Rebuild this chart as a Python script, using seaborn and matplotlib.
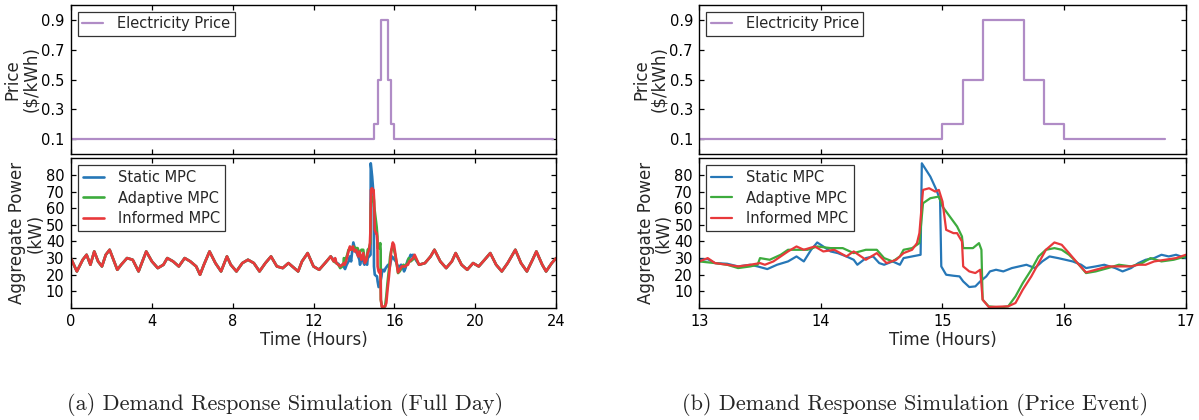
import numpy as np
import matplotlib
matplotlib.use("Agg")
import matplotlib.pyplot as plt
import seaborn as sns

# ---------------- data ----------------
# Electricity price (step function, $/kWh)
price_hours_day = [0.0, 15.0, 15.167, 15.333, 15.667, 15.833, 16.0, 23.833]
price_values_day = [0.1, 0.2, 0.5, 0.9, 0.5, 0.2, 0.1, 0.1]
price_hours_event = [13.0, 15.0, 15.167, 15.333, 15.667, 15.833, 16.0, 16.833]
price_values_event = [0.1, 0.2, 0.5, 0.9, 0.5, 0.2, 0.1, 0.1]

# Full-day aggregate power outside the event window (all controllers overlap)
pre_hours = [0.00, 0.30, 0.59, 0.78, 0.97, 1.16, 1.35, 1.54, 1.73, 1.92, 2.11, 2.30,
             2.49, 2.78, 3.06, 3.35, 3.54, 3.73, 4.01, 4.30, 4.58, 4.77, 5.06, 5.34,
             5.63, 5.91, 6.20, 6.39, 6.58, 6.86, 7.15, 7.43, 7.72, 7.91, 8.19, 8.48,
             8.76, 9.05, 9.33, 9.62, 9.90, 10.19, 10.48, 10.76, 10.95, 11.24, 11.43,
             11.71, 12.00, 12.28, 12.57, 12.85]
pre_power = [30, 22, 29, 32, 26, 34, 28, 25, 32, 35, 29, 23,
             26, 30, 29, 22, 28, 34, 28, 24, 26, 30, 28, 25,
             30, 28, 25, 20, 26, 34, 27, 22, 31, 26, 22, 27,
             29, 27, 22, 27, 31, 25, 24, 27, 25, 22, 28,
             33, 25, 23, 27, 31]
post_hours = [17.22, 17.51, 17.79, 17.98, 18.27, 18.56, 18.84, 19.03, 19.32, 19.60,
              19.89, 20.17, 20.46, 20.74, 21.03, 21.31, 21.60, 21.98, 22.26, 22.55,
              22.83, 23.02, 23.31, 23.50, 23.78, 24.00]
post_power = [26, 27, 31, 35, 28, 24, 28, 33, 26, 23,
              27, 25, 29, 33, 26, 22, 27, 35, 27, 22,
              29, 34, 26, 22, 27, 30]

# Price event window (13h - 17h)
static_hours = [13.00, 13.07, 13.13, 13.23, 13.32, 13.42, 13.48, 13.56, 13.64, 13.73,
                13.80, 13.86, 13.92, 13.97, 14.02, 14.08, 14.14, 14.21, 14.27, 14.30,
                14.37, 14.43, 14.48, 14.52, 14.59, 14.65, 14.68, 14.75, 14.82, 14.83,
                14.90, 14.95, 14.98, 14.99, 15.03, 15.09, 15.14, 15.17, 15.22, 15.27,
                15.31, 15.36, 15.39, 15.44, 15.50, 15.57, 15.63, 15.69, 15.76, 15.82,
                15.88, 15.95, 16.01, 16.07, 16.14, 16.18, 16.26, 16.33, 16.42, 16.48,
                16.55, 16.61, 16.67, 16.74, 16.80, 16.86, 16.92, 17.00]
static_power = [29, 29.4, 27, 26.6, 25, 26, 25, 23.4, 26, 28,
                31, 28, 35, 39.4, 37, 34, 33, 31, 29, 26,
                30, 31, 27, 26, 28, 26, 30, 31, 32, 87,
                79, 71, 65, 25, 20, 19.4, 19, 16, 12.6, 13,
                16, 19, 22, 23, 22, 24, 25, 26, 24, 28,
                31, 30, 29, 28, 26, 24, 25, 26, 24, 22,
                24, 27, 29, 30, 32, 31, 32, 30]

adaptive_hours = [13.00, 13.13, 13.23, 13.32, 13.42, 13.48, 13.50, 13.58, 13.67, 13.73,
                  13.80, 13.89, 13.97, 14.08, 14.18, 14.27, 14.37, 14.46, 14.52, 14.59,
                  14.65, 14.68, 14.75, 14.81, 14.84, 14.90, 14.97, 15.00, 15.06, 15.12,
                  15.16, 15.17, 15.25, 15.30, 15.32, 15.33, 15.38, 15.47, 15.54, 15.60,
                  15.66, 15.73, 15.79, 15.85, 15.92, 15.98, 16.04, 16.11, 16.18, 16.26,
                  16.36, 16.45, 16.55, 16.64, 16.71, 16.80, 16.90, 17.00]
adaptive_power = [28, 27, 26, 24, 25, 26, 30, 29, 32, 35,
                  35, 35, 37, 36, 36, 33, 35, 35, 30, 28,
                  31, 35, 36, 39, 63, 66, 67, 61, 55, 49,
                  43, 36, 36, 39, 35, 5, 1, 0.3, 1, 7,
                  15, 23, 31, 35, 36, 35, 32, 27, 21, 22,
                  24, 26, 25, 27, 30, 28, 29, 31]

informed_hours = [13.00, 13.07, 13.13, 13.23, 13.32, 13.42, 13.50, 13.54, 13.61, 13.67,
                  13.73, 13.80, 13.86, 13.95, 14.02, 14.11, 14.21, 14.27, 14.37, 14.46,
                  14.54, 14.62, 14.68, 14.75, 14.79, 14.81, 14.84, 14.89, 14.94, 14.97,
                  15.00, 15.03, 15.09, 15.12, 15.16, 15.17, 15.22, 15.27, 15.31, 15.33,
                  15.38, 15.54, 15.60, 15.66, 15.73, 15.79, 15.85, 15.92, 15.98, 16.04,
                  16.11, 16.18, 16.26, 16.36, 16.45, 16.55, 16.61, 16.67, 16.74, 16.83,
                  16.92, 17.00]
informed_power = [28, 30, 27, 26, 25, 26, 27, 26, 28, 31,
                  34, 37, 35, 37, 34, 35, 31, 34, 29, 33,
                  27, 29, 33, 35, 39, 45, 71, 72, 70, 71,
                  64, 47, 45, 45, 40, 25, 22, 21, 23, 5,
                  0.6, 1, 3, 11, 19, 27, 35, 39.4, 38, 33,
                  27, 21.4, 23, 25, 25, 25, 26, 26, 28, 29,
                  30, 32]

series_names = ["Static MPC", "Adaptive MPC", "Informed MPC"]
x_ticks_day = [0, 4, 8, 12, 16, 20, 24]
x_ticks_event = [13, 14, 15, 16, 17]
price_ticks = [0.1, 0.3, 0.5, 0.7, 0.9]
power_ticks = [10, 20, 30, 40, 50, 60, 70, 80]
captions = ["(a) Demand Response Simulation (Full Day)",
            "(b) Demand Response Simulation (Price Event)"]

# ---------------- style ----------------
sns.set_style("ticks")
plt.rcParams["font.family"] = ["DejaVu Sans"]
colors = {"Static MPC": "#2677b7", "Adaptive MPC": "#3dab3d", "Informed MPC": "#e8393b"}
price_color = "#b08cc6"

fig = plt.figure(figsize=(11.99, 4.2), dpi=100)
W, H = 1199.0, 420.0


def add_axes(l, r, t, b):
    return fig.add_axes([l / W, 1 - b / H, (r - l) / W, (b - t) / H])


ax_lp = add_axes(70.8, 556.2, 5, 154)
ax_lw = add_axes(70.8, 556.2, 158.3, 308)
ax_rp = add_axes(699.2, 1185.8, 5, 154)
ax_rw = add_axes(699.2, 1185.8, 158.3, 308)


def style_axes(ax):
    for s in ax.spines.values():
        s.set_linewidth(1.0)
        s.set_color("black")
    ax.tick_params(direction="in", top=True, right=True, length=3.8, width=0.9,
                   labelsize=10.5, colors="black", pad=4.5)


LEG_FS = 10.5
LABEL_FS = 12

event_series = {
    "Static MPC": (static_hours, static_power),
    "Adaptive MPC": (adaptive_hours, adaptive_power),
    "Informed MPC": (informed_hours, informed_power),
}

# Price panels
for ax, hrs, vals, xlim, xt in [
    (ax_lp, price_hours_day, price_values_day, (0, 24), x_ticks_day),
    (ax_rp, price_hours_event, price_values_event, (13, 17), x_ticks_event),
]:
    sns.lineplot(x=hrs, y=vals, ax=ax, color=price_color, linewidth=1.6,
                 drawstyle="steps-post", label="Electricity Price")
    ax.set_xlim(*xlim)
    ax.set_ylim(0, 1)
    ax.set_xticks(xt)
    ax.set_xticklabels([])
    ax.set_yticks(price_ticks)
    ax.set_yticklabels([f"{t:.1f}" for t in price_ticks])
    ax.set_ylabel("Price\n($/kWh)", fontsize=LABEL_FS, linespacing=1.0, labelpad=1)
    ax.set_xlabel("")
    style_axes(ax)
    leg = ax.legend(loc="upper left", fontsize=LEG_FS, frameon=True, fancybox=False,
                    edgecolor="black", handlelength=1.45, handletextpad=0.95,
                    borderpad=0.3, borderaxespad=0.48)
    leg.get_frame().set_linewidth(0.9)

# Power panels
for ax, full, xlim, xt, lw in [
    (ax_lw, True, (0, 24), x_ticks_day, 1.9),
    (ax_rw, False, (13, 17), x_ticks_event, 1.6),
]:
    for name in series_names:
        hrs, vals = event_series[name]
        if full:
            hrs = np.concatenate([pre_hours, hrs, post_hours])
            vals = np.concatenate([pre_power, vals, post_power])
        sns.lineplot(x=hrs, y=vals, ax=ax, color=colors[name], linewidth=lw,
                     label=name)
    ax.set_xlim(*xlim)
    ax.set_ylim(0, 90)
    ax.set_xticks(xt)
    ax.set_xticklabels([str(t) for t in xt])
    ax.set_yticks(power_ticks)
    ax.set_yticklabels([str(t) for t in power_ticks])
    ax.set_ylabel("Aggregate Power\n(kW)", fontsize=LABEL_FS, linespacing=1.0, labelpad=1)
    ax.set_xlabel("Time (Hours)", fontsize=LABEL_FS, labelpad=1)
    style_axes(ax)
    leg = ax.legend(loc="upper left", fontsize=LEG_FS, frameon=True, fancybox=False,
                    edgecolor="black", handlelength=1.45, handletextpad=0.95,
                    borderpad=0.35, labelspacing=0.35, borderaxespad=0.48)
    leg.get_frame().set_linewidth(0.9)

fig.align_ylabels([ax_lp, ax_lw])
fig.align_ylabels([ax_rp, ax_rw])

for cx, txt in zip([285, 915], captions):
    fig.text(cx / W, 1 - 405 / H, txt, ha="center", va="center",
             fontfamily="cmr10", fontsize=16)

fig.savefig("out.png", dpi=100)
